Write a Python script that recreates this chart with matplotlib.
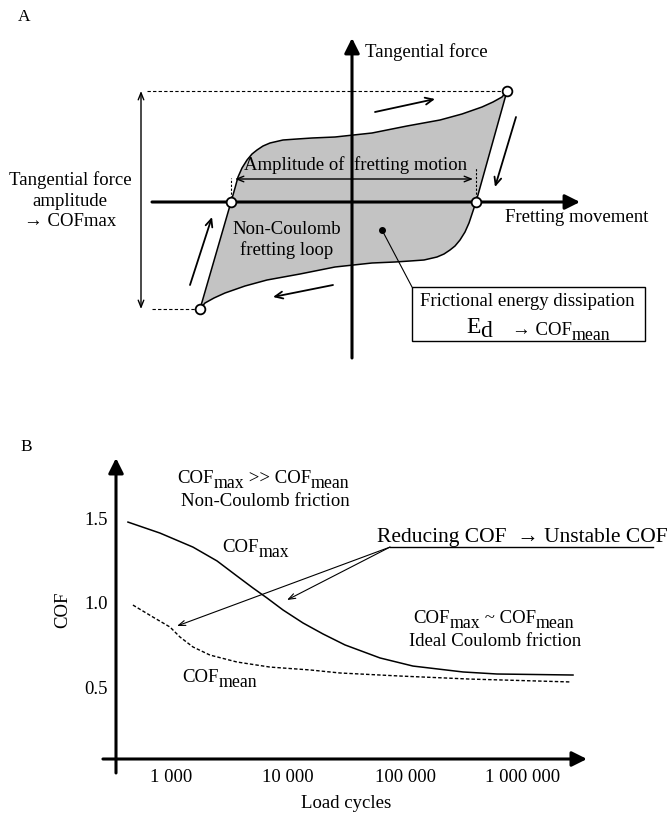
import matplotlib
matplotlib.use("Agg")
import matplotlib.pyplot as plt
from matplotlib.patches import Polygon, Rectangle
from matplotlib.ticker import NullLocator

plt.rcParams['font.family'] = ['Liberation Serif', 'DejaVu Serif']

# ---- panel A: schematic fretting loop (movement, force), origin where axes cross
loop_up_x = [-152, -121, -117, -114, -110, -105, -100, -95, -89, -82, -69, -55, -40, -17,
             20, 55, 88, 110, 130, 141, 150, 155]
loop_up_y = [-107, 0, 14, 25, 34, 42, 48, 52, 56, 59, 62, 63, 64, 65,
             69, 76, 82, 88, 95, 100, 105, 111]
loop_dn_x = [155, 124, 120, 117, 113, 108, 103, 98, 92, 85, 72, 58, 43, 20,
             -17, -52, -85, -107, -127, -138, -147, -152]
loop_dn_y = [111, 0, -12, -21, -30, -38, -44, -48, -52, -55, -58, -59, -60, -61,
             -65, -72, -78, -84, -91, -96, -101, -107]
corner_x = [-152, -121, 124, 155]
corner_y = [-107, 0, 0, 111]

# ---- panel B: COF versus load cycles
cycles_max = [430, 806, 1540, 2470, 3650, 5000, 6580, 9010, 13350, 19760, 30440,
              60500, 115600, 308700, 601400, 2673000]
cof_max = [1.476, 1.411, 1.328, 1.246, 1.157, 1.086, 1.027, 0.956, 0.879, 0.814, 0.749,
           0.672, 0.624, 0.589, 0.577, 0.571]
cycles_mean = [474, 702, 981, 1193, 1540, 2150, 3650, 6980, 15310, 27590, 89600,
               354000, 2520000]
cof_mean = [0.985, 0.914, 0.855, 0.796, 0.737, 0.689, 0.648, 0.618, 0.601, 0.583, 0.565,
            0.547, 0.530]
x_ticks = [1e3, 1e4, 1e5, 1e6]
x_labels = ['1 000', '10 000', '100 000', '1 000 000']
y_ticks = [0.5, 1.0, 1.5]
y_labels = ['0.5', '1.0', '1.5']

FS = 13.5
W, H = 670, 818

fig = plt.figure(figsize=(6.7, 8.18), dpi=100)


def px(x, y):
    return x / W, 1 - y / H


# ================= panel A =================
ax = fig.add_axes([0, 0, 1, 1])
ax.set_xlim(-352, 318)
ax.set_ylim(-616, 202)
ax.axis('off')


def rich(x, y, pieces, fs, drop=3.5, sub_scale=0.95):
    # pieces alternate normal / subscript; x, y = left and baseline in pixels
    bottom = y + 0.22 * fs * 100 / 72
    first = ax.text(*px(x, bottom), pieces[0], fontsize=fs, ha='left', va='bottom',
                    transform=fig.transFigure)
    prev = first
    for i, s in enumerate(pieces[1:], start=1):
        is_sub = i % 2 == 1
        prev = ax.annotate(s, xy=(1, 0), xycoords=(prev, first),
                           xytext=(0, -drop if is_sub else 0), textcoords='offset points',
                           fontsize=fs * sub_scale if is_sub else fs, ha='left', va='bottom')


poly = Polygon(list(zip(loop_up_x + loop_dn_x, loop_up_y + loop_dn_y)), closed=True,
               facecolor='#c3c3c3', edgecolor='black', lw=1.1, zorder=1)
ax.add_patch(poly)

heavy = dict(arrowstyle='-|>,head_length=0.9,head_width=0.45', lw=2.2, color='black',
             shrinkA=0, shrinkB=0)
ax.annotate('', xy=(228, 0), xytext=(-200, 0), arrowprops=heavy, zorder=3)
ax.annotate('', xy=(0, 164), xytext=(0, -156), arrowprops=heavy, zorder=3)

ax.plot(corner_x, corner_y, 'o', ms=7, mfc='white', mec='black', mew=1.3, zorder=5)

# dashed guides
ax.plot([-205, 151], [111, 111], ls='--', lw=0.8, color='black', dashes=(3, 2))
ax.plot([-200, -157], [-107, -107], ls='--', lw=0.8, color='black', dashes=(3, 2))
ax.plot([-121, -121], [0, 24], ls='--', lw=0.8, color='black', dashes=(2, 1.5))
ax.plot([124, 124], [0, 34], ls='--', lw=0.8, color='black', dashes=(2, 1.5))

thin2 = dict(arrowstyle='<->,head_length=0.5,head_width=0.2', lw=1.0, color='black',
             shrinkA=0, shrinkB=0)
ax.annotate('', xy=(-211, 111), xytext=(-211, -107), arrowprops=thin2)
ax.annotate('', xy=(121, 23), xytext=(-117, 23), arrowprops=thin2)

small = dict(arrowstyle='->,head_length=0.55,head_width=0.25', lw=1.3, color='black',
             shrinkA=0, shrinkB=0)
ax.annotate('', xy=(83, 103), xytext=(23, 90), arrowprops=small)
ax.annotate('', xy=(143, 15), xytext=(164, 85), arrowprops=small)
ax.annotate('', xy=(-79, -95), xytext=(-19, -83), arrowprops=small)
ax.annotate('', xy=(-140, -15), xytext=(-162, -83), arrowprops=small)

ax.text(-334, 185, 'A', fontsize=FS - 1, ha='left', va='center')
ax.text(13, 150, 'Tangential force', fontsize=FS, ha='left', va='center')
ax.text(153, -16, 'Fretting movement', fontsize=FS, ha='left', va='center')
ax.text(4, 37, 'Amplitude of  fretting motion', fontsize=FS, ha='center', va='center')
ax.text(-282, 22, 'Tangential force', fontsize=FS, ha='center', va='center')
ax.text(-282, 0, 'amplitude', fontsize=FS, ha='center', va='center')
ax.text(-282, -20, '\u2192 COFmax', fontsize=FS, ha='center', va='center')
ax.text(-65, -27, 'Non-Coulomb', fontsize=FS, ha='center', va='center')
ax.text(-65, -48, 'fretting loop', fontsize=FS, ha='center', va='center')

ax.plot([30], [-28], 'o', ms=4, color='black', zorder=5)
ax.plot([30, 60], [-28, -85], lw=0.8, color='black')
ax.add_patch(Rectangle((60, -139), 233, 54, facecolor='white', edgecolor='black', lw=1.0))
ax.text(175, -100, 'Frictional energy dissipation', fontsize=FS, ha='center', va='center')
rich(466, 333, ['E', 'd'], 17, drop=3.0, sub_scale=1.0)
rich(512, 335, ['\u2192 COF', 'mean'], FS)

# ================= panel B =================
bx = fig.add_axes([116 / W, (H - 759) / H, 484 / W, 304 / H])
bx.patch.set_alpha(0)
bx.set_xscale('log')
bx.set_xlim(340, 4.54e6)
bx.set_ylim(0.074, 1.873)
for s in bx.spines.values():
    s.set_visible(False)

bx.plot(cycles_max, cof_max, color='black', lw=1.1)
bx.plot(cycles_mean, cof_mean, color='black', lw=1.0, ls='--', dashes=(2.5, 1.5))

bx.set_xticks(x_ticks)
bx.set_xticklabels(x_labels)
bx.xaxis.set_minor_locator(NullLocator())
bx.set_yticks(y_ticks)
bx.set_yticklabels(y_labels)
bx.tick_params(axis='both', length=0, labelsize=FS)
bx.tick_params(axis='x', pad=7)
bx.tick_params(axis='y', pad=6)

bx.annotate('', xy=(0.973, 0), xytext=(-0.027, 0), xycoords='axes fraction',
            arrowprops=heavy)
bx.annotate('', xy=(0, 0.99), xytext=(0, -0.046), xycoords='axes fraction',
            arrowprops=heavy)

thin = dict(arrowstyle='->,head_length=0.5,head_width=0.18', lw=0.8, color='black',
            shrinkA=0, shrinkB=0)
bx.annotate('', xy=(1125, 0.861), xytext=(73600, 1.328), arrowprops=thin)
bx.annotate('', xy=(9750, 1.015), xytext=(73600, 1.328), arrowprops=thin)
bx.plot([73600, 1.28e7], [1.328, 1.328], color='black', lw=1.0, clip_on=False)

fig.text(*px(20, 447), 'B', fontsize=FS - 1, ha='left', va='center')
fig.text(*px(63, 610), 'COF', fontsize=FS, rotation=90, ha='center', va='center')
fig.text(*px(346, 804), 'Load cycles', fontsize=FS, ha='center', va='center')
rich(177, 483, ['COF', 'max', ' >> COF', 'mean'], FS)
fig.text(*px(265, 506), 'Non-Coulomb friction', fontsize=FS, ha='center', va='baseline')
rich(222, 552, ['COF', 'max'], FS)
rich(182, 682, ['COF', 'mean'], FS)
rich(413, 623, ['COF', 'max', ' ~ COF', 'mean'], FS)
fig.text(*px(495, 646), 'Ideal Coulomb friction', fontsize=FS, ha='center', va='baseline')
fig.text(*px(377, 542), 'Reducing COF  \u2192 Unstable COF', fontsize=15.5,
         ha='left', va='baseline')

fig.savefig('out.png', dpi=100)
